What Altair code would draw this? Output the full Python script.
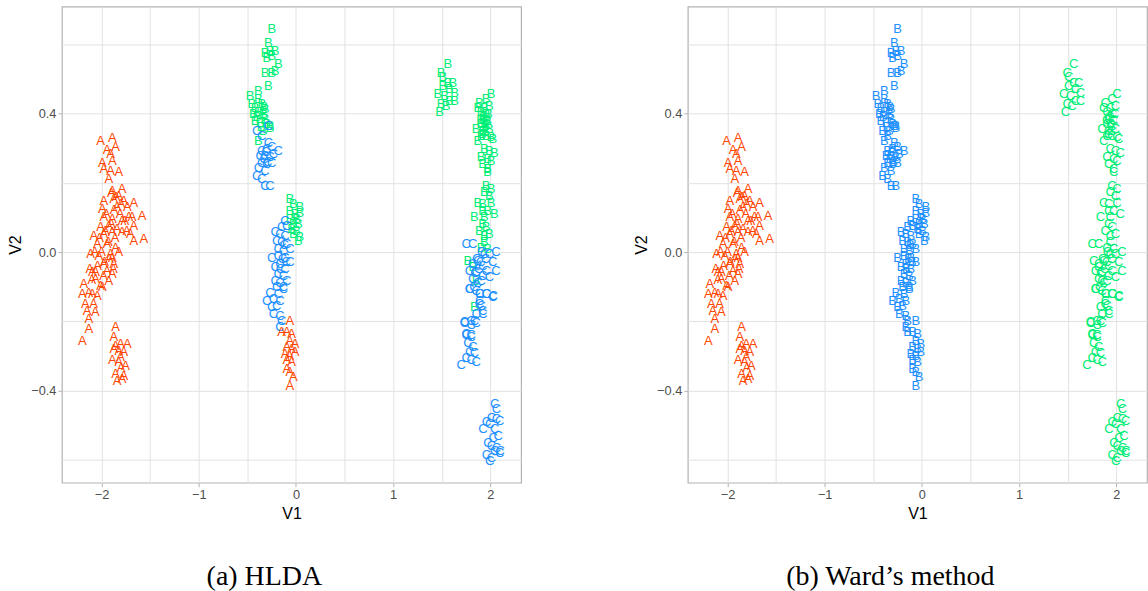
import altair as alt
import pandas as pd

# ---- data (V1, V2) per group of points; labels per method ----
A_MAIN_V1 = [-2.010,-1.890,-1.856,-1.942,-1.908,-1.993,-1.890,-1.976,-1.908,-1.823,
 -1.925,-1.890,-1.788,-1.823,-1.976,-1.874,-1.771,-1.669,-1.993,-1.839,
 -1.736,-1.583,-1.685,-1.976,-1.890,-1.788,-1.669,-2.010,-1.925,-1.839,
 -2.079,-1.976,-1.890,-1.788,-1.703,-1.566,-1.669,-2.044,-1.942,-1.856,
 -2.113,-2.028,-1.908,-1.976,-1.874,-2.096,-1.942,-1.890,-2.062,-2.010,
 -1.925,-2.182,-2.198,-2.096,-1.823,-1.890,-2.062,-1.993,-2.130,-2.044,
 -2.167,-2.082,-2.150,-2.064,-2.130,-2.130,-2.198,-1.96,-1.90,-1.93,
 -1.86,-2.00,-1.92,-1.95,-1.87,-1.81,-1.76,-1.72,-1.74,-2.02,
 -2.07,-1.97,-1.90,-1.85,-1.80,-2.12,-2.04,-1.88,-2.10,-1.98]
A_MAIN_V2 = [0.321,0.330,0.302,0.294,0.283,0.258,0.263,0.239,0.234,0.230,
 0.211,0.177,0.182,0.162,0.148,0.153,0.148,0.143,0.124,0.129,
 0.129,0.105,0.100,0.100,0.095,0.090,0.076,0.071,0.076,0.066,
 0.047,0.052,0.057,0.057,0.052,0.037,0.033,0.023,0.023,0.013,
 -0.006,-0.011,-0.006,-0.035,-0.035,-0.059,-0.054,-0.063,-0.078,-0.097,
 -0.083,-0.092,-0.121,-0.121,-0.001,-0.016,-0.059,-0.102,-0.117,-0.126,
 -0.150,-0.150,-0.169,-0.174,-0.193,-0.222,-0.256,0.06,0.08,0.03,
 0.04,0.00,-0.02,0.11,0.12,0.11,0.09,0.10,0.06,0.04,
 0.00,-0.03,0.17,0.16,0.14,-0.05,-0.04,-0.05,-0.08,-0.07]

A_LOW_V1 = [-1.856,-1.874,-1.856,-1.805,-1.736,-1.874,-1.823,-1.771,-1.805,-1.890,
 -1.823,-1.754,-1.80,-1.856,-1.771,-1.839,-1.788]
A_LOW_V2 = [-0.217,-0.246,-0.270,-0.265,-0.265,-0.280,-0.285,-0.290,-0.304,-0.313,
 -0.318,-0.328,-0.335,-0.352,-0.357,-0.371,-0.366]

B_TOP_V1 = [-0.249,-0.284,-0.318,-0.267,-0.215,-0.301,-0.249,-0.182,-0.318,-0.249,
 -0.215,-0.284,-0.472,-0.387,-0.387,-0.454,-0.421,-0.352,-0.318,-0.438,
 -0.387,-0.335,-0.421,-0.369,-0.318,-0.267,-0.335,-0.387,-0.267,-0.40,
 -0.36,-0.33,-0.30]
B_TOP_V2 = [0.645,0.604,0.576,0.581,0.581,0.561,0.566,0.542,0.518,0.518,
 0.523,0.480,0.451,0.465,0.441,0.427,0.417,0.427,0.412,0.398,
 0.403,0.398,0.379,0.374,0.384,0.364,0.350,0.321,0.359,0.39,
 0.36,0.42,0.37]

C_MID_V1 = [-0.403,-0.284,-0.352,-0.284,-0.182,-0.352,-0.301,-0.249,-0.369,-0.318,
 -0.267,-0.233,-0.352,-0.301,-0.249,-0.387,-0.318,-0.403,-0.352,-0.318,
 -0.267,-0.33,-0.29,-0.31]
C_MID_V2 = [0.350,0.364,0.335,0.316,0.292,0.292,0.297,0.302,0.278,0.278,
 0.273,0.283,0.258,0.254,0.258,0.244,0.234,0.220,0.211,0.191,
 0.191,0.27,0.26,0.29]

B_ZERO_V1 = [-0.062,-0.028,0.041,-0.062,-0.010,0.041,-0.062,0.007,-0.028,0.024,
 -0.044,0.007,0.041,0.024,-0.028]
B_ZERO_V2 = [0.153,0.138,0.129,0.119,0.110,0.114,0.095,0.095,0.081,0.081,
 0.066,0.061,0.042,0.033,0.052]

C_ZERO_V1 = [-0.113,-0.147,-0.095,-0.215,-0.164,-0.113,-0.198,-0.147,-0.095,-0.062,
 -0.182,-0.130,-0.249,-0.182,-0.113,-0.062,-0.164,-0.215,-0.113,-0.182,
 -0.130,-0.215,-0.164,-0.095,-0.198,-0.130,-0.267,-0.182,-0.301,-0.233,
 -0.164,-0.249,-0.198,-0.233,-0.164,-0.147,-0.164,-0.14,-0.12,-0.16,
 -0.10,-0.13]
C_ZERO_V2 = [0.090,0.071,0.076,0.057,0.052,0.047,0.033,0.028,0.023,0.009,
 0.009,0.004,-0.016,-0.011,-0.016,-0.030,-0.035,-0.044,-0.049,-0.063,
 -0.068,-0.083,-0.088,-0.083,-0.102,-0.107,-0.117,-0.121,-0.140,-0.136,
 -0.140,-0.160,-0.155,-0.179,-0.184,-0.198,-0.217,-0.02,0.02,-0.05,
 -0.03,-0.10]

A_ZERO_V1 = [-0.062,-0.147,-0.095,-0.044,-0.062,-0.010,-0.095,-0.044,-0.113,-0.062,
 -0.010,-0.095,-0.044,-0.095,-0.062,-0.028,-0.062]
A_ZERO_V2 = [-0.198,-0.232,-0.232,-0.236,-0.256,-0.265,-0.275,-0.280,-0.294,-0.299,
 -0.290,-0.313,-0.318,-0.337,-0.347,-0.362,-0.386]

B_R1_V1 = [1.562,1.494,1.511,1.562,1.614,1.511,1.579,1.631,1.459,1.528,
 1.579,1.631,1.494,1.545,1.477]
B_R1_V2 = [0.544,0.518,0.504,0.489,0.489,0.480,0.470,0.460,0.456,0.451,
 0.436,0.436,0.427,0.422,0.403]

B_R2_V1 = [2.007,1.956,1.887,1.870,1.938,1.990,1.905,1.956,1.921,1.972,
 1.905,1.956,1.853,1.921,1.990,1.905,1.956,2.007,1.870,2.024,
 1.938,1.990,2.041,1.905,1.972,1.921,1.972,2.007,1.972,1.93,
 1.94,1.96,1.92,1.95,1.98,1.90]
B_R2_V2 = [0.456,0.441,0.431,0.417,0.417,0.422,0.403,0.398,0.384,0.379,
 0.369,0.364,0.355,0.350,0.355,0.335,0.335,0.331,0.321,0.326,
 0.297,0.292,0.287,0.273,0.268,0.254,0.239,0.263,0.230,0.39,
 0.37,0.38,0.34,0.35,0.40,0.38]

B_R3_V1 = [1.956,2.007,1.938,1.990,1.870,1.921,2.007,1.921,1.972,1.836,
 2.041,1.938,1.921,1.956,1.887,1.938,1.990,1.938,1.905,1.972]
B_R3_V2 = [0.191,0.182,0.172,0.162,0.143,0.138,0.143,0.119,0.119,0.100,
 0.110,0.100,0.081,0.071,0.061,0.047,0.052,0.028,0.013,0.009]

B_MIX_V1 = [1.767,1.819,1.836,1.853]
B_MIX_V2 = [-0.025,-0.044,-0.160,-0.083]

C_MIX_V1 = [1.751,1.819,1.990,2.058,1.938,1.819,1.870,1.921,2.024,1.785,
 1.853,1.956,2.058,1.819,1.905,1.990,1.785,1.853,1.956,2.024,
 1.887,1.921,1.853,1.733,1.802,1.751,1.802,1.836,1.86,1.88,
 1.90,1.84,1.87,1.92,1.89,1.83,1.95,1.91]
C_MIX_V2 = [0.023,0.023,-0.006,-0.001,-0.006,-0.035,-0.025,-0.040,-0.030,-0.054,
 -0.059,-0.054,-0.054,-0.078,-0.083,-0.073,-0.107,-0.112,-0.121,-0.131,
 -0.150,-0.169,-0.179,-0.203,-0.198,-0.236,-0.241,-0.198,-0.02,-0.05,
 -0.03,-0.06,-0.09,-0.07,-0.12,-0.10,-0.02,0.00]

C_LOW_V1 = [1.733,1.803,1.855,1.751,1.803,1.768,1.820,1.786,1.837,1.751,
 1.803,1.855,1.699,1.889,1.906,1.924,1.786,2.028,1.959,1.889]
C_LOW_V2 = [-0.205,-0.210,-0.205,-0.239,-0.244,-0.263,-0.273,-0.288,-0.292,-0.307,
 -0.312,-0.317,-0.326,-0.141,-0.156,-0.180,-0.107,-0.127,-0.122,-0.122]

C_BOT_V1 = [2.045,2.063,2.010,2.063,2.097,1.959,1.994,1.924,2.045,2.080,
 2.028,1.976,2.010,2.063,2.097,1.959,2.010,1.994,2.045,2.100]
C_BOT_V2 = [-0.439,-0.453,-0.478,-0.483,-0.487,-0.492,-0.497,-0.512,-0.512,-0.531,
 -0.536,-0.551,-0.561,-0.566,-0.580,-0.585,-0.595,-0.603,-0.575,-0.575]

# (V1 list, V2 list, HLDA label, Ward label)
GROUPS = [
    (A_MAIN_V1, A_MAIN_V2, "A", "A"),
    (A_LOW_V1, A_LOW_V2, "A", "A"),
    (B_TOP_V1, B_TOP_V2, "B", "B"),
    (C_MID_V1, C_MID_V2, "C", "B"),
    (B_ZERO_V1, B_ZERO_V2, "B", "B"),
    (C_ZERO_V1, C_ZERO_V2, "C", "B"),
    (A_ZERO_V1, A_ZERO_V2, "A", "B"),
    (B_R1_V1, B_R1_V2, "B", "C"),
    (B_R2_V1, B_R2_V2, "B", "C"),
    (B_R3_V1, B_R3_V2, "B", "C"),
    (B_MIX_V1, B_MIX_V2, "B", "C"),
    (C_MIX_V1, C_MIX_V2, "C", "C"),
    (C_LOW_V1, C_LOW_V2, "C", "C"),
    (C_BOT_V1, C_BOT_V2, "C", "C"),
]

rows = []
for xs, ys, h, w in GROUPS:
    for x, y in zip(xs, ys):
        rows.append({"V1": x, "V2": y, "HLDA": h, "Ward": w})
df = pd.DataFrame(rows)

LABELS = ["A", "B", "C"]
HLDA_COLORS = ["#FF4500", "#00EE76", "#1E90FF"]
WARD_COLORS = ["#FF4500", "#1E90FF", "#00EE76"]

X_DOMAIN = [-2.408, 2.316]
Y_DOMAIN = [-0.666, 0.709]
X_VALUES = [-2, -1.5, -1, -0.5, 0, 0.5, 1, 1.5, 2]
Y_VALUES = [-0.6, -0.4, -0.2, 0.0, 0.2, 0.4, 0.6]

x_major = "abs(datum.value - round(datum.value)) < 0.01"
y_major = "round(abs(datum.value) * 10) % 4 == 0"


def panel(field, colors, caption):
    return alt.Chart(df).mark_text(
        font="Liberation Sans", fontSize=13, align="center", baseline="middle"
    ).encode(
        x=alt.X("V1:Q",
                scale=alt.Scale(domain=X_DOMAIN, nice=False, zero=False),
                axis=alt.Axis(values=X_VALUES, format=".0f",
                              labelExpr=f"{x_major} ? datum.label : ''",
                              tickOpacity={"condition": {"test": x_major, "value": 1}, "value": 0},
                              title="V1", titlePadding=4, labelPadding=2, tickSize=4)),
        y=alt.Y("V2:Q",
                scale=alt.Scale(domain=Y_DOMAIN, nice=False, zero=False),
                axis=alt.Axis(values=Y_VALUES, format=".1f",
                              labelExpr=f"{y_major} ? datum.label : ''",
                              tickOpacity={"condition": {"test": y_major, "value": 1}, "value": 0},
                              title="V2", titlePadding=7, labelPadding=2, tickSize=4)),
        text=alt.Text(f"{field}:N"),
        color=alt.Color(f"{field}:N", scale=alt.Scale(domain=LABELS, range=colors), legend=None),
    ).properties(
        width=460, height=477,
        title=alt.TitleParams(caption, orient="bottom", anchor="middle", frame="bounds",
                              font="Liberation Serif", fontSize=28, fontWeight="normal",
                              color="#000000", offset=42),
    )


left = panel("HLDA", HLDA_COLORS, "(a) HLDA")
right = panel("Ward", WARD_COLORS, "(b) Ward\u2019s method")

chart = alt.hconcat(left, right, spacing=111).resolve_scale(color="independent").properties(
    padding={"left": 7, "top": 5, "right": 0, "bottom": 0}
).configure(background="white").configure_view(
    stroke="#B3B3B3", strokeWidth=1.2
).configure_axis(
    domain=False, tickColor="#B3B3B3", tickWidth=1,
    gridColor="#E2E2E2", gridWidth=1,
    labelFont="Liberation Sans", labelFontSize=12.8, labelColor="#4D4D4D",
    titleFont="Liberation Sans", titleFontSize=16, titleFontWeight="normal", titleColor="#000000",
)

chart.save("out.html", embed_options={"renderer": "svg", "actions": False})
